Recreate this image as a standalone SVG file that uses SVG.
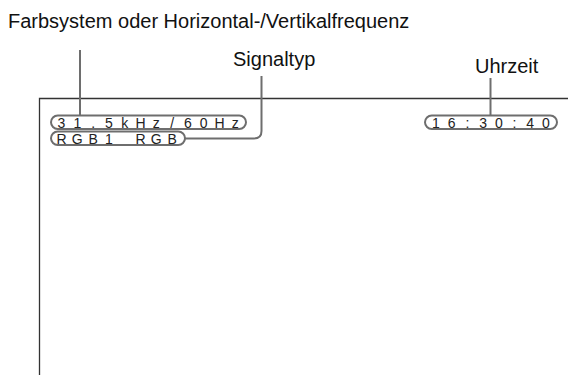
<svg xmlns="http://www.w3.org/2000/svg" width="568" height="375" viewBox="0 0 568 375">
<style>
.lbl{font-family:"Liberation Sans",Arial,sans-serif;font-size:20px;fill:#111}
.osd{font-family:"Liberation Sans",Arial,sans-serif;font-size:14px;fill:#222;text-anchor:middle}
.pill{fill:none;stroke:#6e6e6e;stroke-width:2}
.lead{fill:none;stroke:#6e6e6e;stroke-width:2}
.frame{fill:none;stroke:#333;stroke-width:1.3}
</style>
<rect width="568" height="375" fill="#fff"/>
<g id="screen"><path class="frame" d="M39.5,375 V98.5 H568"/></g>
<g id="freq">
<rect class="pill" x="51" y="115.5" width="195" height="13.5" rx="6.75"/>
<text class="osd" y="127.5" x="61.5 77.3 93.1 108.9 124.7 140.5 156.3 172.1 187.9 203.7 219.5 235.3">31.5kHz/60Hz</text>
</g>
<g id="signal">
<rect class="pill" x="51" y="131.5" width="134" height="13.5" rx="6.75"/>
<text class="osd" y="143.5" x="61.5 77.3 93.1 108.9 140.5 156.3 172.1">RGB1RGB</text>
</g>
<g id="time">
<rect class="pill" x="425" y="115.5" width="132" height="13.5" rx="6.75"/>
<text class="osd" y="127.5" x="436 451.7 467.4 483.1 498.8 514.5 530.2 545.9">16:30:40</text>
</g>
<g id="labels">
<text class="lbl" x="8" y="28">Farbsystem oder Horizontal-/Vertikalfrequenz</text>
<text class="lbl" x="233" y="66">Signaltyp</text>
<text class="lbl" x="475" y="73">Uhrzeit</text>
</g>
<g id="connectors">
<path class="lead" d="M80,50 V115.5"/>
<path class="lead" d="M261.5,76 V131 Q261.5,138.5 254,138.5 H185"/>
<path class="lead" d="M490.5,78 V115.5"/>
</g>
</svg>
